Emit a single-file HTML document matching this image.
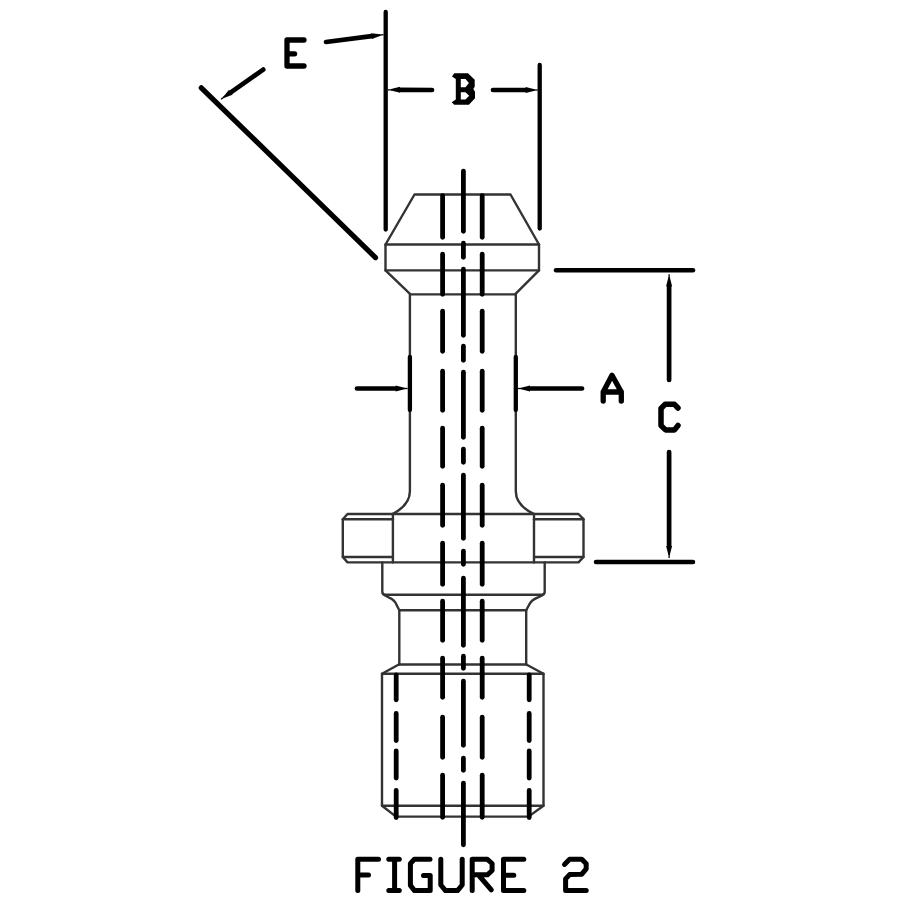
<!DOCTYPE html>
<html><head><meta charset="utf-8"><style>
html,body{margin:0;padding:0;background:#fff;}
svg{display:block;}
</style></head><body>
<svg width="900" height="900" viewBox="0 0 900 900">
<rect width="900" height="900" fill="#fff"/>
<g stroke="#000" fill="none">
<path d="M414.5,194.5 L510.5,194.5 L539,244.5 L539,270.4 L515,294.4 L410.5,294.4 L385.5,270.4 L385.5,244.5 Z" stroke-width="2.4" stroke-linecap="round" stroke-linejoin="round" fill="none" stroke="#333333"/>
<line x1="385.5" y1="244.5" x2="539" y2="244.5" stroke-width="2.4" stroke-linecap="round" stroke="#333333"/>
<line x1="385.5" y1="270.4" x2="539" y2="270.4" stroke-width="2.4" stroke-linecap="round" stroke="#333333"/>
<path d="M409.9,294.8 L409.9,491.3 C409.9,500 404,508 393,513.8" stroke-width="2.4" stroke-linecap="round" stroke-linejoin="round" fill="none" stroke="#333333"/>
<path d="M515.8,294.8 L515.8,491.3 C515.8,500 521.5,508 533.6,513.8" stroke-width="2.4" stroke-linecap="round" stroke-linejoin="round" fill="none" stroke="#333333"/>
<path d="M347.5,514 L578.5,514 L583.5,519.2 L583.5,557 L578.5,562.4 L347.5,562.4 L342.8,557 L342.8,519.2 Z" stroke-width="2.4" stroke-linecap="round" stroke-linejoin="round" fill="none" stroke="#333333"/>
<line x1="342.8" y1="519.2" x2="392.9" y2="519.2" stroke-width="2.4" stroke-linecap="round" stroke="#333333"/>
<line x1="342.8" y1="557" x2="392.9" y2="557" stroke-width="2.4" stroke-linecap="round" stroke="#333333"/>
<line x1="534" y1="519.2" x2="583.5" y2="519.2" stroke-width="2.4" stroke-linecap="round" stroke="#333333"/>
<line x1="534" y1="557" x2="583.5" y2="557" stroke-width="2.4" stroke-linecap="round" stroke="#333333"/>
<line x1="392.9" y1="514" x2="392.9" y2="562.4" stroke-width="2.4" stroke-linecap="round" stroke="#333333"/>
<line x1="534" y1="514" x2="534" y2="562.4" stroke-width="2.4" stroke-linecap="round" stroke="#333333"/>
<path d="M382.3,562.4 L382.3,591.8 Q382.3,594.8 385.3,594.8 L541.7,594.8 Q544.7,594.8 544.7,591.8 L544.7,562.4" stroke-width="2.4" stroke-linecap="round" stroke-linejoin="round" fill="none" stroke="#333333"/>
<path d="M384.5,595.2 L388.5,597.3 Q395,600 396.6,605 L399.3,610.3 L526.2,610.3 L529,605 Q531,600 538,597.3 L542.5,595.2" stroke-width="2.4" stroke-linecap="round" stroke-linejoin="round" fill="none" stroke="#333333"/>
<line x1="399.3" y1="610.3" x2="399.3" y2="664.5" stroke-width="2.4" stroke-linecap="round" stroke="#333333"/>
<line x1="526.2" y1="610.3" x2="526.2" y2="664.5" stroke-width="2.4" stroke-linecap="round" stroke="#333333"/>
<line x1="399.3" y1="664.5" x2="526.2" y2="664.5" stroke-width="2.4" stroke-linecap="round" stroke="#333333"/>
<path d="M398.8,664.5 L382,673.8 L382,805.7 L396,816.6 L528.5,816.6 L543.5,805.7 L543.5,673.8 L526.3,664.5" stroke-width="2.4" stroke-linecap="round" stroke-linejoin="round" fill="none" stroke="#333333"/>
<line x1="382" y1="673.8" x2="543.5" y2="673.8" stroke-width="2.4" stroke-linecap="round" stroke="#333333"/>
<line x1="382" y1="805.7" x2="543.5" y2="805.7" stroke-width="2.4" stroke-linecap="round" stroke="#333333"/>
<line x1="442.6" y1="195.7" x2="442.6" y2="237.3" stroke-width="4.8" stroke-linecap="round"/>
<line x1="442.6" y1="254.2" x2="442.6" y2="294.3" stroke-width="4.8" stroke-linecap="round"/>
<line x1="442.6" y1="311.2" x2="442.6" y2="351.3" stroke-width="4.8" stroke-linecap="round"/>
<line x1="442.6" y1="371.2" x2="442.6" y2="410.3" stroke-width="4.8" stroke-linecap="round"/>
<line x1="442.6" y1="428.2" x2="442.6" y2="466.3" stroke-width="4.8" stroke-linecap="round"/>
<line x1="442.6" y1="485.2" x2="442.6" y2="525.3" stroke-width="4.8" stroke-linecap="round"/>
<line x1="442.6" y1="543.2" x2="442.6" y2="584.3" stroke-width="4.8" stroke-linecap="round"/>
<line x1="442.6" y1="601.2" x2="442.6" y2="640.3" stroke-width="4.8" stroke-linecap="round"/>
<line x1="442.6" y1="658.2" x2="442.6" y2="697.3" stroke-width="4.8" stroke-linecap="round"/>
<line x1="442.6" y1="717.2" x2="442.6" y2="757.3" stroke-width="4.8" stroke-linecap="round"/>
<line x1="442.6" y1="775.2" x2="442.6" y2="817.3" stroke-width="4.8" stroke-linecap="round"/>
<line x1="482.2" y1="195.7" x2="482.2" y2="237.3" stroke-width="4.8" stroke-linecap="round"/>
<line x1="482.2" y1="254.2" x2="482.2" y2="294.3" stroke-width="4.8" stroke-linecap="round"/>
<line x1="482.2" y1="311.2" x2="482.2" y2="351.3" stroke-width="4.8" stroke-linecap="round"/>
<line x1="482.2" y1="371.2" x2="482.2" y2="410.3" stroke-width="4.8" stroke-linecap="round"/>
<line x1="482.2" y1="428.2" x2="482.2" y2="466.3" stroke-width="4.8" stroke-linecap="round"/>
<line x1="482.2" y1="485.2" x2="482.2" y2="525.3" stroke-width="4.8" stroke-linecap="round"/>
<line x1="482.2" y1="543.2" x2="482.2" y2="584.3" stroke-width="4.8" stroke-linecap="round"/>
<line x1="482.2" y1="601.2" x2="482.2" y2="640.3" stroke-width="4.8" stroke-linecap="round"/>
<line x1="482.2" y1="658.2" x2="482.2" y2="697.3" stroke-width="4.8" stroke-linecap="round"/>
<line x1="482.2" y1="717.2" x2="482.2" y2="757.3" stroke-width="4.8" stroke-linecap="round"/>
<line x1="482.2" y1="775.2" x2="482.2" y2="817.3" stroke-width="4.8" stroke-linecap="round"/>
<line x1="463.4" y1="171.2" x2="463.4" y2="231.3" stroke-width="4.8" stroke-linecap="round"/>
<line x1="463.4" y1="243.2" x2="463.4" y2="257.3" stroke-width="4.8" stroke-linecap="round"/>
<line x1="463.4" y1="269.2" x2="463.4" y2="335.3" stroke-width="4.8" stroke-linecap="round"/>
<line x1="463.4" y1="346.2" x2="463.4" y2="360.3" stroke-width="4.8" stroke-linecap="round"/>
<line x1="463.4" y1="372.2" x2="463.4" y2="437.3" stroke-width="4.8" stroke-linecap="round"/>
<line x1="463.4" y1="449.2" x2="463.4" y2="462.3" stroke-width="4.8" stroke-linecap="round"/>
<line x1="463.4" y1="475.2" x2="463.4" y2="538.3" stroke-width="4.8" stroke-linecap="round"/>
<line x1="463.4" y1="551.2" x2="463.4" y2="564.3" stroke-width="4.8" stroke-linecap="round"/>
<line x1="463.4" y1="578.2" x2="463.4" y2="645.3" stroke-width="4.8" stroke-linecap="round"/>
<line x1="463.4" y1="656.2" x2="463.4" y2="668.3" stroke-width="4.8" stroke-linecap="round"/>
<line x1="463.4" y1="681.2" x2="463.4" y2="745.3" stroke-width="4.8" stroke-linecap="round"/>
<line x1="463.4" y1="758.2" x2="463.4" y2="770.3" stroke-width="4.8" stroke-linecap="round"/>
<line x1="463.4" y1="783.2" x2="463.4" y2="844.8" stroke-width="4.8" stroke-linecap="round"/>
<line x1="396.2" y1="675.0" x2="396.2" y2="699.8" stroke-width="4.8" stroke-linecap="round"/>
<line x1="396.2" y1="713.5" x2="396.2" y2="740.5999999999999" stroke-width="4.8" stroke-linecap="round"/>
<line x1="396.2" y1="750.9000000000001" x2="396.2" y2="778.0" stroke-width="4.8" stroke-linecap="round"/>
<line x1="396.2" y1="790.5" x2="396.2" y2="817.5999999999999" stroke-width="4.8" stroke-linecap="round"/>
<line x1="529.2" y1="675.0" x2="529.2" y2="699.8" stroke-width="4.8" stroke-linecap="round"/>
<line x1="529.2" y1="713.5" x2="529.2" y2="740.5999999999999" stroke-width="4.8" stroke-linecap="round"/>
<line x1="529.2" y1="750.9000000000001" x2="529.2" y2="778.0" stroke-width="4.8" stroke-linecap="round"/>
<line x1="529.2" y1="790.5" x2="529.2" y2="817.5999999999999" stroke-width="4.8" stroke-linecap="round"/>
<line x1="201.3" y1="87.8" x2="375.5" y2="257.6" stroke-width="5.2" stroke-linecap="round"/>
<line x1="385.7" y1="12" x2="385.7" y2="229.5" stroke-width="4.3" stroke-linecap="round"/>
<line x1="326" y1="42" x2="371.59815778548415" y2="36.13171534586813" stroke-width="4.7" stroke-linecap="round"/>
<path d="M371.98,39.11 L371.22,33.16 L380.44,34.29 L380.61,35.68 Z" fill="#000" stroke="none"/>
<line x1="379.53271926182805" y1="35.11057178195605" x2="383.5" y2="34.6" stroke-width="1.3" stroke-linecap="butt"/>
<line x1="263.2" y1="69.6" x2="230.82421639116393" y2="92.30908044600824" stroke-width="4.7" stroke-linecap="round"/>
<path d="M229.10,89.85 L232.55,94.77 L223.86,98.05 L223.05,96.90 Z" fill="#000" stroke="none"/>
<line x1="224.27473879705465" y1="96.90302681533608" x2="221" y2="99.2" stroke-width="1.3" stroke-linecap="butt"/>
<line x1="539.7" y1="65" x2="539.7" y2="228.5" stroke-width="4.3" stroke-linecap="round"/>
<line x1="432" y1="90" x2="399.9998760349788" y2="89.85454489106809" stroke-width="4.7" stroke-linecap="round"/>
<path d="M400.01,86.85 L399.99,92.85 L391.00,90.51 L391.00,89.11 Z" fill="#000" stroke="none"/>
<line x1="391.99995867832627" y1="89.81818163035602" x2="388" y2="89.8" stroke-width="1.3" stroke-linecap="butt"/>
<line x1="493" y1="90" x2="525.6" y2="90.0" stroke-width="4.7" stroke-linecap="round"/>
<path d="M525.60,93.00 L525.60,87.00 L534.60,89.30 L534.60,90.70 Z" fill="#000" stroke="none"/>
<line x1="533.6" y1="90.0" x2="537.6" y2="90" stroke-width="1.3" stroke-linecap="butt"/>
<line x1="409.9" y1="357" x2="409.9" y2="410" stroke-width="4.3" stroke-linecap="round"/>
<line x1="515.8" y1="357" x2="515.8" y2="410" stroke-width="4.3" stroke-linecap="round"/>
<line x1="357" y1="388.5" x2="395.6" y2="388.5" stroke-width="4.7" stroke-linecap="round"/>
<path d="M395.60,391.50 L395.60,385.50 L404.60,387.80 L404.60,389.20 Z" fill="#000" stroke="none"/>
<line x1="403.6" y1="388.5" x2="407.6" y2="388.5" stroke-width="1.3" stroke-linecap="butt"/>
<line x1="582" y1="388.5" x2="530.0" y2="388.5" stroke-width="4.7" stroke-linecap="round"/>
<path d="M530.00,385.50 L530.00,391.50 L521.00,389.20 L521.00,387.80 Z" fill="#000" stroke="none"/>
<line x1="522.0" y1="388.5" x2="518" y2="388.5" stroke-width="1.3" stroke-linecap="butt"/>
<line x1="556" y1="270.3" x2="693" y2="270.3" stroke-width="4.5" stroke-linecap="round"/>
<line x1="596" y1="562" x2="693" y2="562" stroke-width="4.5" stroke-linecap="round"/>
<line x1="669.1" y1="380" x2="669.1" y2="286.3" stroke-width="4.7" stroke-linecap="round"/>
<path d="M672.10,286.30 L666.10,286.30 L668.40,277.30 L669.80,277.30 Z" fill="#000" stroke="none"/>
<line x1="669.1" y1="278.3" x2="669.1" y2="274.3" stroke-width="1.3" stroke-linecap="butt"/>
<line x1="669.1" y1="452" x2="669.1" y2="546.0" stroke-width="4.7" stroke-linecap="round"/>
<path d="M666.10,546.00 L672.10,546.00 L669.80,555.00 L668.40,555.00 Z" fill="#000" stroke="none"/>
<line x1="669.1" y1="554.0" x2="669.1" y2="558" stroke-width="1.3" stroke-linecap="butt"/>
<path d="M304,40 L287,40 L287,66 L304,66 M287,53.8 L294.6,53.8" stroke-width="5.3" stroke-linecap="round" stroke-linejoin="round" fill="none"/>
<path d="M452,76.4 L454.2,73.3 L468,73.3 L474.7,79.7 L474.7,86.7 L473.3,88.9 L475,91.7 L475,98.3 L468.9,104.7 L454.2,104.7 L451.7,102.2 L455.8,99.4 L455.8,78.9 Z M460.8,78.9 L465.5,78.9 L468.9,83 L465.5,87.2 L460.8,87.2 Z M460.8,92.2 L465.5,92.2 L469.2,95.8 L465.5,99.4 L460.8,99.4 Z" fill="#000" fill-rule="evenodd" stroke="none"/>
<path d="M603.2,401 L603.2,392 L612,375.3 L621.3,392 L621.3,401 M603.2,392 L621.3,392" stroke-width="5.3" stroke-linecap="round" stroke-linejoin="round" fill="none"/>
<path d="M678,408 L674.5,404.3 L665,404.3 L661,408.5 L661,425.5 L665.5,429.9 L674.5,429.9 L678,425.5" stroke-width="5.5" stroke-linecap="round" stroke-linejoin="round" fill="none"/>
<path d="M378.5,859.3 L357.8,859.3 L357.8,890.6 M357.8,875 L368.5,875" stroke-width="5" stroke-linecap="round" stroke-linejoin="round" fill="none"/>
<path d="M388.8,859.3 L399.3,859.3 M394.6,859.3 L394.6,890.6 M388.8,890.6 L399.3,890.6" stroke-width="5" stroke-linecap="round" stroke-linejoin="round" fill="none"/>
<path d="M430,859.3 L414.2,859.3 L410.4,863.7 L410.4,885.4 L414.5,890.6 L430.2,890.6 L430.2,875.6 L423.5,875.6" stroke-width="5" stroke-linecap="round" stroke-linejoin="round" fill="none"/>
<path d="M440.8,859.3 L440.8,885 L445.5,890.6 L457.5,890.6 L462.2,885 L462.2,859.3" stroke-width="5" stroke-linecap="round" stroke-linejoin="round" fill="none"/>
<path d="M472.2,890.6 L472.2,859.3 L487.4,859.3 L492.1,863.5 L492.1,870.5 L487.4,874.8 L472.2,874.8 M478.5,875 L491.3,889.8" stroke-width="5" stroke-linecap="round" stroke-linejoin="round" fill="none"/>
<path d="M523.8,859.3 L503.5,859.3 L503.5,890.6 L523.8,890.6 M503.5,875.2 L513.8,875.2" stroke-width="5" stroke-linecap="round" stroke-linejoin="round" fill="none"/>
<path d="M564.5,864.4 L569.6,859.3 L581.8,859.3 L586.2,863.8 L586.2,868.8 L581.8,874.2 L569.6,874.6 L565.6,878.9 L565.6,890.6 L586.2,890.6" stroke-width="5" stroke-linecap="round" stroke-linejoin="round" fill="none"/>
</g>
</svg>
</body></html>
